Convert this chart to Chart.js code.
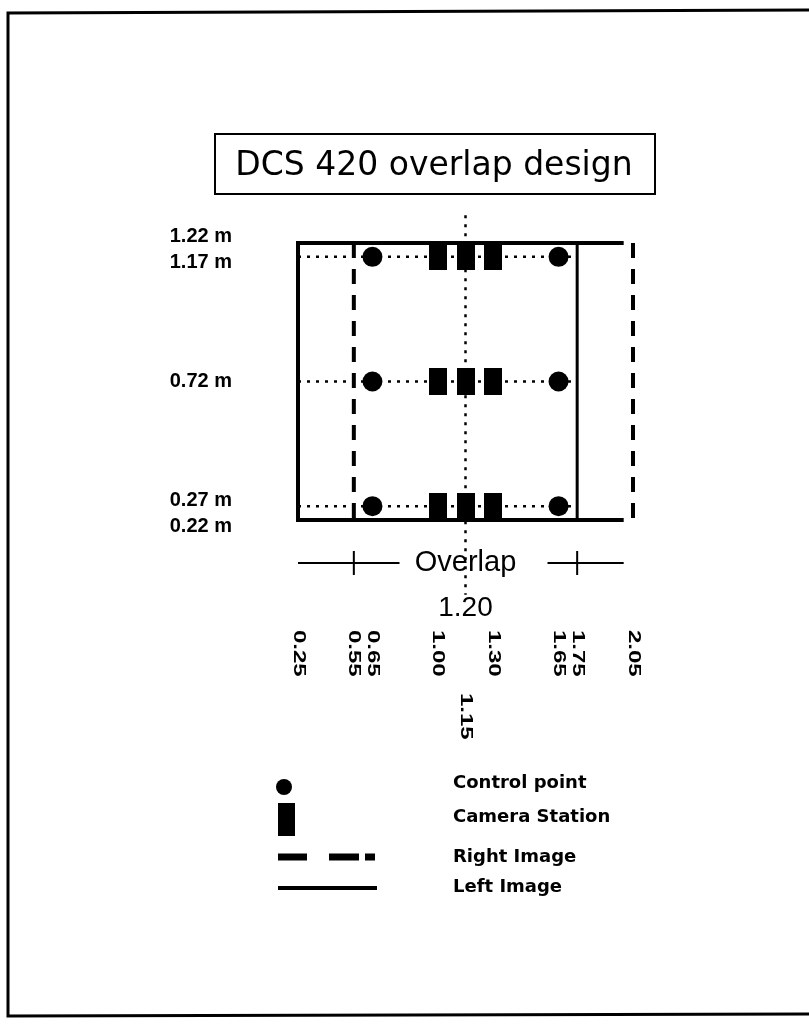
<!DOCTYPE html>
<html>
<head>
<meta charset="utf-8">
<title>DCS 420 overlap design</title>
<script src="https://cdn.jsdelivr.net/npm/chart.js@4"></script>
<style>
  body { margin: 0; background: #fff; }
  canvas { display: block; }
</style>
</head>
<body>
<canvas id="chart" width="809" height="1024"></canvas>
<script>
// values, in metres
let titleText = "DCS 420 overlap design";
let xTicks = [0.25, 0.55, 0.65, 1.00, 1.15, 1.30, 1.65, 1.75, 2.05];
let yTicks = [1.22, 1.17, 0.72, 0.27, 0.22];
let rowY = [1.17, 0.72, 0.27];
let controlX = [0.65, 1.65];
let cameraX = [1.00, 1.15, 1.30];
let leftImageX = [0.25, 1.75];
let rightImageX = [0.55, 2.05];
let imageY = [0.22, 1.22];
let edgeX = [0.25, 2.00];
let centreX = 1.15;
let centreY = [1.32, -0.05];
let overlapX = [0.55, 1.75];
let legendLabels = ["Control point", "Camera Station", "Right Image", "Left Image"];

function grid(xs, ys) {
    let out = [];
    ys.forEach(y => xs.forEach(x => out.push({ x, y })));
    return out;
}

function line(data, dash, width, label) {
    return {
        label: label || "",
        data,
        showLine: true,
        borderColor: "#000",
        borderWidth: width,
        borderDash: dash,
        pointRadius: 0,
        pointHitRadius: 0,
        clip: false,
        order: 1
    };
}

// camera station marker: a filled upright rectangle
let camImg = document.createElement("canvas");
camImg.width = 18;
camImg.height = 27;
let g = camImg.getContext("2d");
g.fillStyle = "#000";
g.fillRect(0, 0, 18, 27);

let datasets = [];
datasets.push({
    label: legendLabels[0],
    data: grid(controlX, rowY),
    pointStyle: "circle",
    pointRadius: 10,
    backgroundColor: "#000",
    borderWidth: 0,
    clip: false,
    order: 0
});
datasets.push({
    label: legendLabels[1],
    data: grid(cameraX, rowY),
    pointStyle: camImg,
    pointRadius: 10,
    clip: false,
    order: 0
});

// dotted guide lines
rowY.forEach(y => {
    datasets.push(line([{ x: leftImageX[0], y }, { x: leftImageX[1], y }], [3, 6], 2.5));
});
datasets.push(line([{ x: centreX, y: centreY[0] }, { x: centreX, y: centreY[1] }], [3, 6], 2.5));

// right image: dashed sides
rightImageX.forEach(x => {
    datasets.push(line([{ x, y: imageY[1] }, { x, y: imageY[0] }], [15, 11], 4, legendLabels[2]));
});

// left image: solid frame
datasets.push(line([
    { x: edgeX[1], y: imageY[1] },
    { x: leftImageX[0], y: imageY[1] },
    { x: leftImageX[0], y: imageY[0] },
    { x: edgeX[1], y: imageY[0] }
], [], 4, legendLabels[3]));
datasets.push(line([{ x: leftImageX[1], y: imageY[1] }, { x: leftImageX[1], y: imageY[0] }], [], 3, legendLabels[3]));

let sketchPlugin = {
    id: "sketch",
    afterDraw(chart) {
        let ctx = chart.ctx;
        let xs = chart.scales.x;
        let ys = chart.scales.y;
        let area = chart.chartArea;
        ctx.save();
        ctx.fillStyle = "#000";
        ctx.strokeStyle = "#000";

        // edge of the scanned page
        ctx.lineWidth = 3;
        ctx.beginPath();
        ctx.moveTo(809, 10);
        ctx.lineTo(8, 13);
        ctx.lineTo(8, 1016);
        ctx.lineTo(809, 1014);
        ctx.stroke();

        // boxed title
        ctx.lineWidth = 2;
        ctx.strokeRect(215, 134, 440, 60);
        ctx.font = "33px 'DejaVu Sans'";
        ctx.textAlign = "center";
        ctx.textBaseline = "middle";
        ctx.fillText(titleText, 434, 166);

        // y labels, pushed apart where they crowd
        let ypos = yTicks.map(v => ys.getPixelForValue(v));
        for (let i = 0; i < ypos.length - 1; i++) {
            let gap = ypos[i + 1] - ypos[i];
            if (gap < 26) {
                ypos[i] -= (26 - gap) / 2;
                ypos[i + 1] += (26 - gap) / 2;
            }
        }
        ctx.font = "bold 20px 'Liberation Sans'";
        ctx.textAlign = "right";
        yTicks.forEach((v, i) => ctx.fillText(v.toFixed(2) + " m", 232, ypos[i]));

        // x labels, turned to read downwards
        ctx.font = "bold 16px 'Liberation Sans'";
        xTicks.forEach(v => {
            let x = xs.getPixelForValue(v);
            let top = area.bottom + (v === centreX ? 173 : 110);
            ctx.save();
            ctx.translate(x, top);
            ctx.rotate(Math.PI / 2);
            ctx.scale(1.5, 1);
            ctx.textAlign = "left";
            ctx.textBaseline = "middle";
            ctx.fillText(v.toFixed(2), 0, 0);
            ctx.restore();
        });

        // overlap dimension
        let cx = xs.getPixelForValue((overlapX[0] + overlapX[1]) / 2);
        let oy = area.bottom + 43;
        ctx.lineWidth = 2;
        ctx.beginPath();
        ctx.moveTo(xs.getPixelForValue(edgeX[0]), oy);
        ctx.lineTo(cx - 66, oy);
        ctx.moveTo(cx + 82, oy);
        ctx.lineTo(xs.getPixelForValue(edgeX[1]), oy);
        overlapX.forEach(v => {
            let x = xs.getPixelForValue(v);
            ctx.moveTo(x, oy - 12);
            ctx.lineTo(x, oy + 12);
        });
        ctx.stroke();
        ctx.textAlign = "center";
        ctx.font = "29px 'Liberation Sans'";
        ctx.fillText("Overlap", cx, oy);
        ctx.font = "28px 'Liberation Sans'";
        ctx.fillText((overlapX[1] - overlapX[0]).toFixed(2), cx, area.bottom + 88);

        // legend
        ctx.beginPath();
        ctx.arc(284, 787, 8, 0, 2 * Math.PI);
        ctx.fill();
        ctx.fillRect(278, 803, 17, 33);
        ctx.lineWidth = 7;
        ctx.setLineDash([29, 22, 30, 6, 10]);
        ctx.beginPath();
        ctx.moveTo(278, 857);
        ctx.lineTo(375, 857);
        ctx.stroke();
        ctx.setLineDash([]);
        ctx.lineWidth = 4;
        ctx.beginPath();
        ctx.moveTo(278, 888);
        ctx.lineTo(377, 888);
        ctx.stroke();
        ctx.font = "bold 18px 'DejaVu Sans'";
        ctx.textAlign = "left";
        let legendY = [783, 817, 857, 887];
        legendLabels.forEach((t, i) => ctx.fillText(t, 453, legendY[i]));

        ctx.restore();
    }
};

new Chart(document.getElementById("chart"), {
    type: "scatter",
    data: { datasets },
    options: {
        responsive: false,
        animation: false,
        devicePixelRatio: 1,
        layout: { padding: { left: 298, right: 176, top: 243, bottom: 504 } },
        scales: {
            x: { type: "linear", min: 0.25, max: 2.05, display: false },
            y: { type: "linear", min: 0.22, max: 1.22, display: false }
        },
        plugins: {
            legend: { display: false },
            tooltip: { enabled: false }
        }
    },
    plugins: [sketchPlugin]
});
</script>
</body>
</html>
